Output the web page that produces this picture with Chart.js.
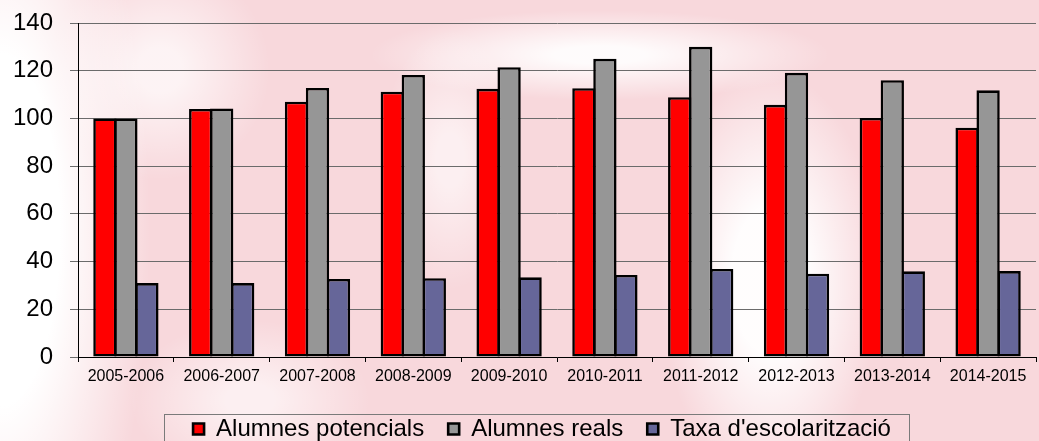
<!DOCTYPE html>
<html>
<head>
<meta charset="utf-8">
<script src="https://cdn.jsdelivr.net/npm/chart.js@4/dist/chart.umd.min.js"></script>
<style>
  html, body { margin: 0; padding: 0; width: 1039px; height: 441px; overflow: hidden; }
  body {
    background-color: #f8d8dc;
    background-image:
      radial-gradient(ellipse 150px 440px at 0px 230px, rgba(255,255,255,1) 40%, rgba(255,255,255,0) 100%),
      radial-gradient(ellipse 110px 210px at 770px 280px, rgba(255,255,255,0.95) 35%, rgba(255,255,255,0) 100%),
      radial-gradient(ellipse 230px 45px at 600px 55px, rgba(255,255,255,0.9) 20%, rgba(255,255,255,0) 100%),
      radial-gradient(ellipse 70px 130px at 450px 160px, rgba(255,255,255,0.6) 20%, rgba(255,255,255,0) 100%),
      radial-gradient(ellipse 110px 110px at 160px 70px, rgba(255,255,255,0.7) 20%, rgba(255,255,255,0) 100%),
      radial-gradient(ellipse 120px 80px at 250px 400px, rgba(255,255,255,0.6) 20%, rgba(255,255,255,0) 100%);
  }
  canvas { display: block; }
</style>
</head>
<body>
<canvas id="c" width="1039" height="441"></canvas>
<script>
const categories = ['2005-2006','2006-2007','2007-2008','2008-2009','2009-2010','2010-2011','2011-2012','2012-2013','2013-2014','2014-2015'];
const alumnesPotencials = [100, 104, 107, 111.2, 112.4, 112.7, 108.9, 105.7, 100.2, 96.1];
const alumnesReals = [100, 104.2, 112.8, 118.2, 121.5, 125, 130, 119.1, 116, 111.8];
const taxaEscolaritzacio = [31, 31, 32.7, 33, 33.4, 34.4, 36.9, 34.9, 35.9, 36];
const seriesNames = ['Alumnes potencials', 'Alumnes reals', "Taxa d'escolarització"];
const yTicks = [0, 20, 40, 60, 80, 100, 120, 140];

const legendTweak = {
  id: 'legendTweak',
  afterLayout(chart) {
    const lg = chart.legend;
    const h = lg.height;
    lg.left += 24; lg.right += 24;
    lg.top = 393; lg.bottom = 393 + h;
  },
  afterDraw(chart) {
    const lg = chart.legend;
    const p = lg.options.labels.padding;
    const lw = lg.lineWidths[0];
    const start = (lg.left + p + lg.right - lw) / 2;
    const ctx = chart.ctx;
    ctx.save();
    ctx.strokeStyle = '#7a7a7a';
    ctx.lineWidth = 1;
    ctx.strokeRect(Math.round(start - 29) + 0.5, 414.5, Math.round(lw - p + 47), 40);
    ctx.restore();
  }
};

const common = { borderColor: '#000000', borderWidth: 2.6, borderSkipped: false,
  categoryPercentage: 0.6576, barPercentage: 1.11 };

new Chart(document.getElementById('c'), {
  type: 'bar',
  data: {
    labels: categories,
    datasets: [
      Object.assign({ label: seriesNames[0], data: alumnesPotencials, backgroundColor: '#ff0000' }, common),
      Object.assign({ label: seriesNames[1], data: alumnesReals, backgroundColor: '#969696' }, common),
      Object.assign({ label: seriesNames[2], data: taxaEscolaritzacio, backgroundColor: '#666699' }, common)
    ]
  },
  options: {
    responsive: false,
    animation: false,
    devicePixelRatio: 1,
    layout: { padding: { top: 23, right: 3, left: 0, bottom: 0 } },
    plugins: {
      tooltip: { enabled: false },
      legend: {
        position: 'bottom',
        labels: {
          boxWidth: 11, boxHeight: 11, padding: 24, color: '#000',
          font: { family: '"Liberation Sans", Arial, sans-serif', size: 24 }
        }
      }
    },
    scales: {
      x: {
        offset: true,
        grid: { offset: true, drawOnChartArea: false, drawTicks: true, tickLength: 5, color: '#000' },
        border: { color: '#000', width: 1 },
        ticks: { color: '#000', padding: 5, maxRotation: 0, autoSkip: false,
          font: { family: '"Liberation Sans", Arial, sans-serif', size: 16 } },
        afterFit(scale) { scale.height = 26; scale.paddingLeft = 0; scale.paddingRight = 0; }
      },
      y: {
        min: 0, max: 140,
        afterBuildTicks(scale) { scale.ticks = yTicks.map(v => ({ value: v })); },
        grid: { color: '#6b6b6b', lineWidth: 1, tickLength: 8, drawTicks: true },
        border: { color: '#000', width: 1 },
        ticks: { color: '#000', padding: 17,
          font: { family: '"Liberation Sans", Arial, sans-serif', size: 24 } },
        afterFit(scale) { scale.width = 78; scale.paddingTop = 0; scale.paddingBottom = 0; }
      }
    }
  },
  plugins: [legendTweak]
});
</script>
</body>
</html>
